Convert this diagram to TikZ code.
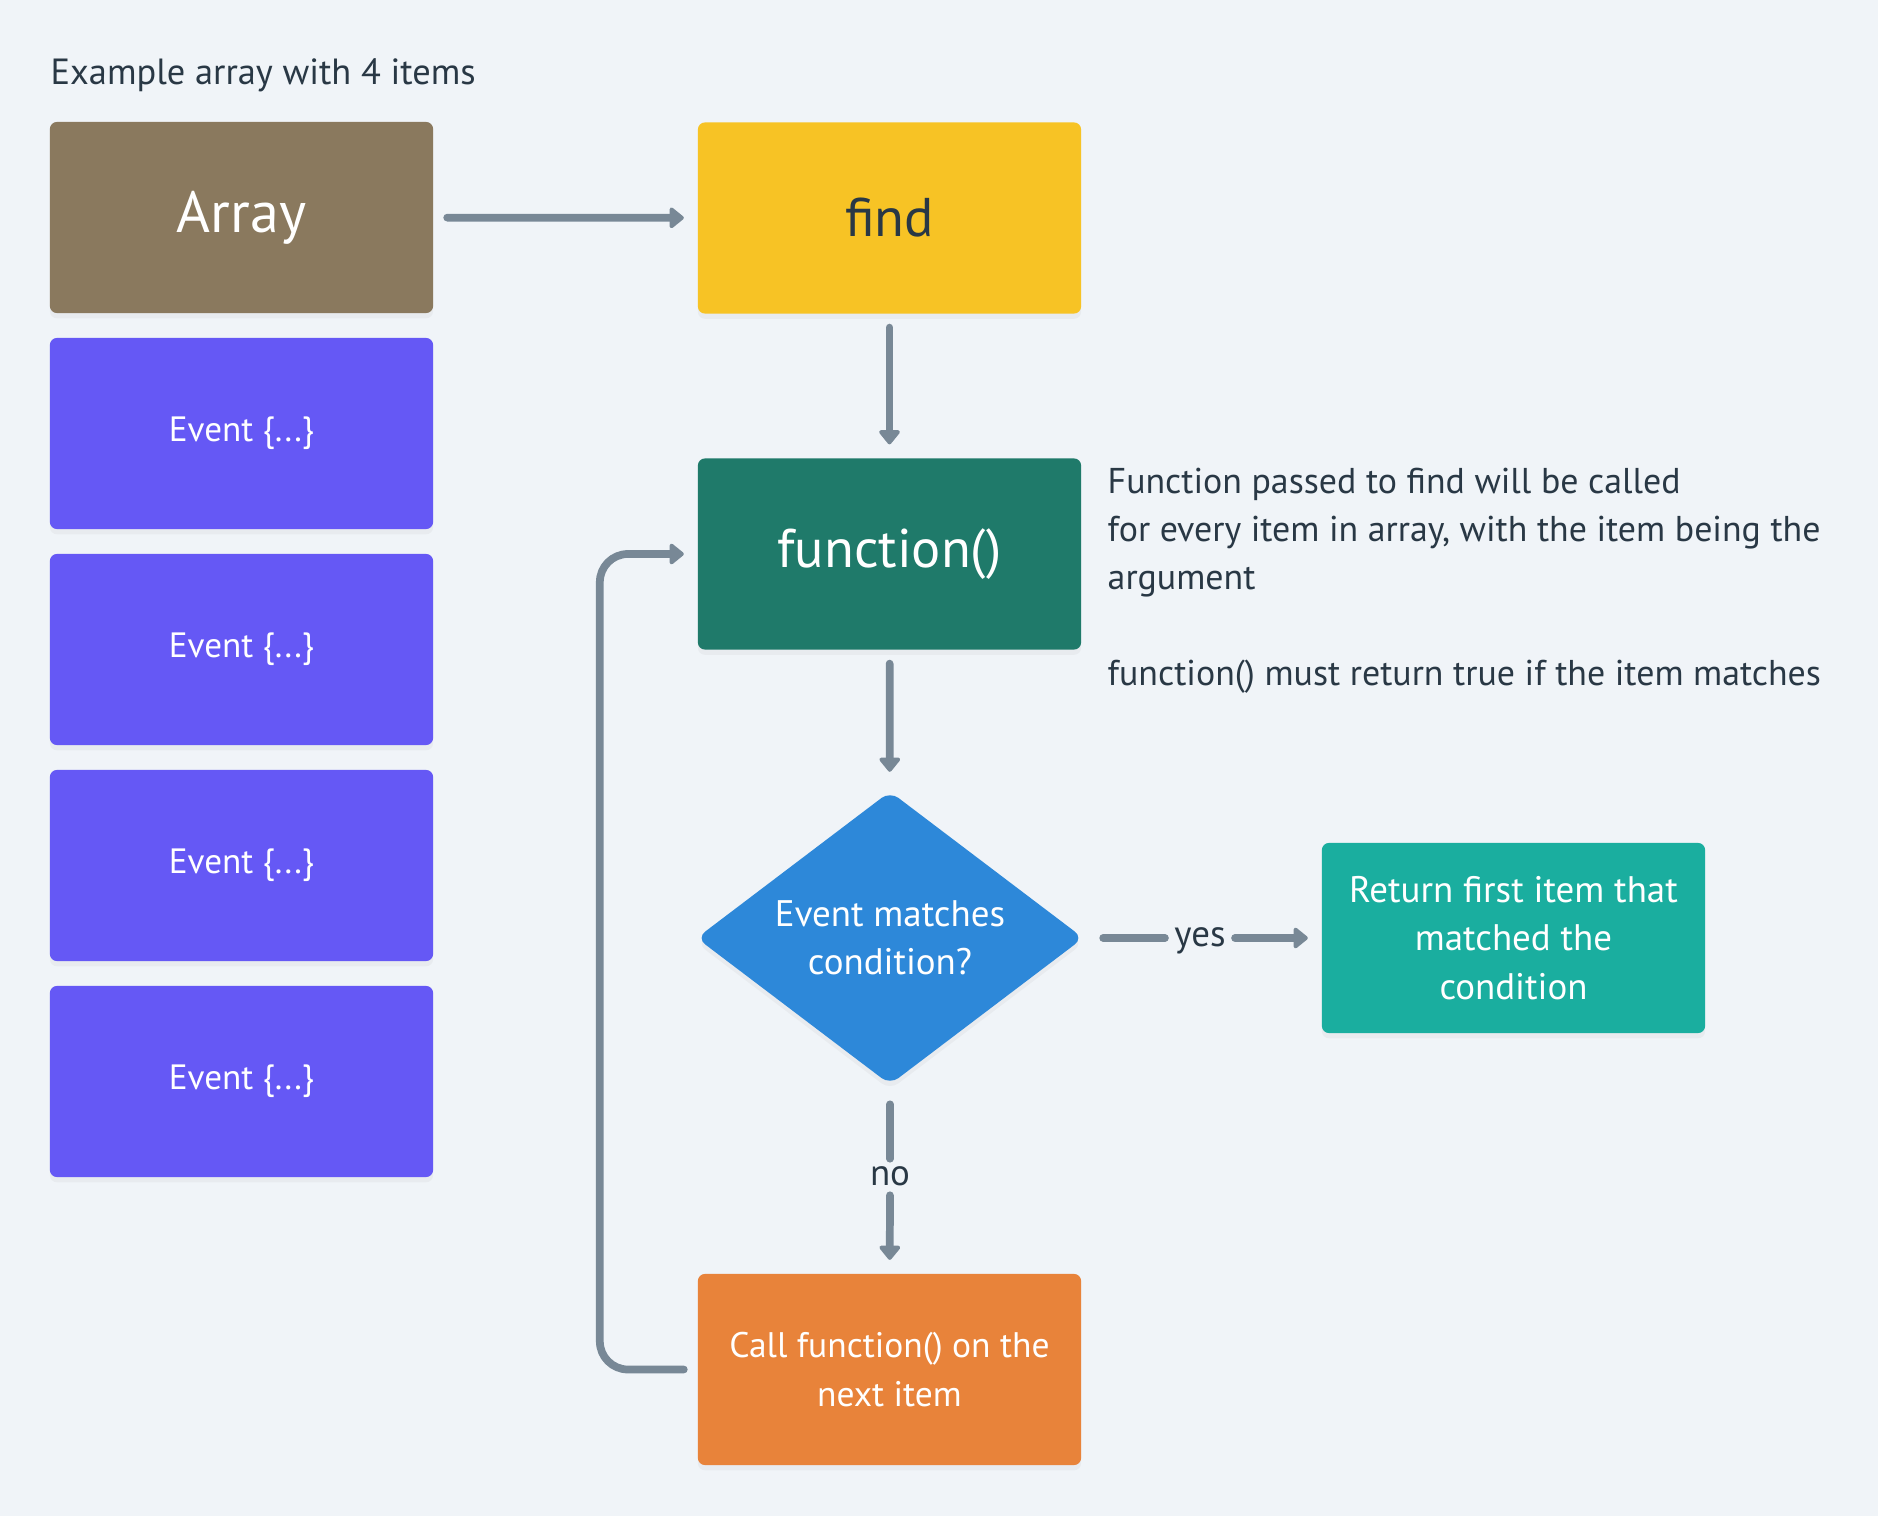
\documentclass[tikz,border=0pt]{standalone}
\usepackage{fontspec}
\setmainfont{PT Sans}
\usetikzlibrary{arrows.meta,shapes.geometric,shadows}

\definecolor{bgcol}{HTML}{F0F4F8}
\definecolor{arraycol}{HTML}{8A795E}
\definecolor{eventcol}{HTML}{6558F5}
\definecolor{findcol}{HTML}{F7C325}
\definecolor{funccol}{HTML}{1F7A6A}
\definecolor{condcol}{HTML}{2D88D9}
\definecolor{retcol}{HTML}{1AAE9F}
\definecolor{callcol}{HTML}{E8833A}
\definecolor{linecol}{HTML}{788896}
\definecolor{inkcol}{HTML}{293845}

\tikzset{
  box/.style={rectangle, rounded corners=2pt, minimum width=3.83cm,
    minimum height=1.91cm, outer sep=4pt, text=white, align=center,
    font=\fontsize{10.5}{13.7}\selectfont,
    drop shadow={shadow xshift=0pt, shadow yshift=-1.5pt, opacity=.07}},
  bigbox/.style={box, font=\fontsize{15.5}{18}\selectfont},
  seg/.style={draw=linecol, line width=2.2pt, line cap=round},
  conn/.style={seg, -{Triangle[round,length=4.4pt,width=6.8pt]}},
  lbl/.style={text=inkcol, inner sep=2.5pt, text height=1ex, text depth=0pt,
    font=\fontsize{10.5}{12}\selectfont},
}

\begin{document}
\begin{tikzpicture}[x=0.01cm, y=-0.01cm]
  \useasboundingbox (0,0) rectangle (1878,1516);
  \fill[bgcol] (0,0) rectangle (1878,1516);

  % left column: the array and its items
  \node[anchor=base west, inner sep=0, text=inkcol,
    font=\fontsize{10.35}{12}\selectfont] (title) at (50,85) {Example array with 4 items};
  \node[bigbox, fill=arraycol, font=\fontsize{16.5}{18}\selectfont] (array) at (241.5,217.5) {Array};
  \foreach \i/\y in {1/433.5, 2/649.5, 3/865.5, 4/1081.5}
    \node[box, fill=eventcol, font=\fontsize{10}{13.7}\selectfont] (event\i) at (241.5,\y) {Event \{...\}};

  % flow
  \node[bigbox, fill=findcol, text=inkcol] (find) at (889.5,218) {find};
  \node[bigbox, fill=funccol] (func) at (889.5,554) {function()};
  \node[box, shape=diamond, fill=condcol, rounded corners=3pt, inner sep=0pt,
    minimum width=3.98cm, minimum height=2.84cm] (cond) at (890,938)
    {Event matches\\condition?};
  \node[box, fill=retcol, minimum height=1.9cm] (ret) at (1513.5,938)
    {Return first item that\\matched the\\condition};
  \node[box, fill=callcol, font=\fontsize{10.1}{13.7}\selectfont] (call) at (889.5,1369.5)
    {Call function() on the\\next item};
  \node[lbl] (yes) at (1200,938) {yes};
  \node[lbl] (no) at (890,1177) {no};

  \node[anchor=north west, inner sep=0, align=left, text=inkcol,
    font=\fontsize{10.2}{13.7}\selectfont] (note) at (1107,467)
    {Function passed to find will be called\\
     for every item in array, with the item being the\\
     argument\\[13.7pt]
     function() must return true if the item matches};

  \begin{scope}
    \draw[conn] (array) -- (find);
    \draw[conn] (find) -- (func);
    \draw[conn] (func) -- (cond);
    \draw[seg] (cond) -- (yes);
    \draw[conn] (yes) -- (ret);
    \draw[seg] (cond) -- (no);
    \draw[conn] (no) -- (call);
    \draw[conn, rounded corners=8pt] (call.west) -- ++(-84,0) |- (func.west);
  \end{scope}
\end{tikzpicture}
\end{document}
